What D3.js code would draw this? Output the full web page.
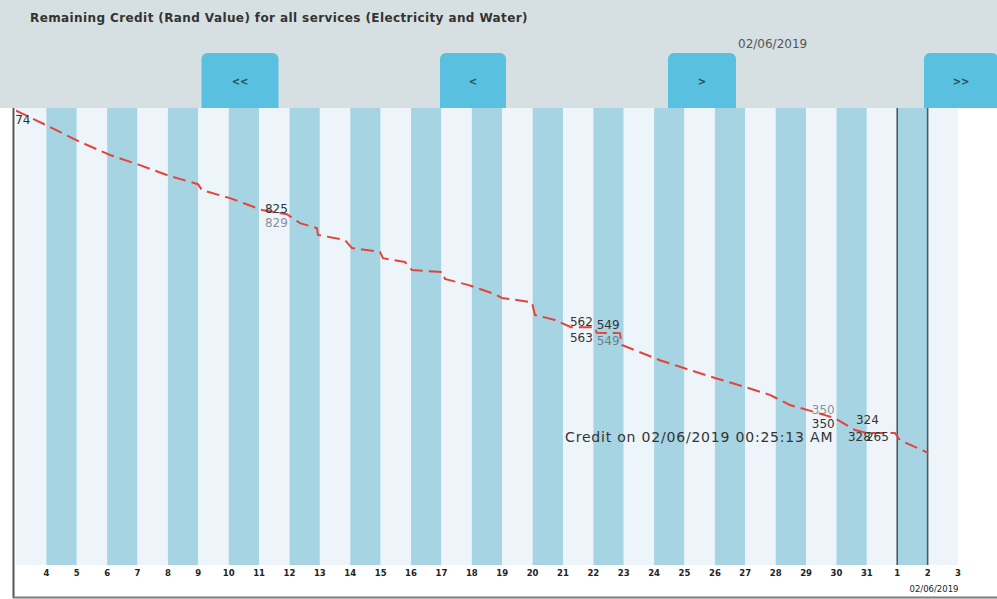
<!DOCTYPE html>
<meta charset="utf-8">
<style>
    body {
        margin: 0;
        background: #fff;
    }

    .title {
        font: bold 12px "DejaVu Sans", Verdana, sans-serif;
        letter-spacing: 0.4px;
        fill: #333;
    }

    .datelabel {
        font: 12px "DejaVu Sans", Verdana, sans-serif;
        fill: #555;
    }

    .btn text {
        font: bold 10px "DejaVu Sans", Verdana, sans-serif;
        fill: #23515f;
        text-anchor: middle;
    }

    .tick-label {
        font: bold 8.5px "DejaVu Sans", Verdana, sans-serif;
        fill: #222;
        text-anchor: middle;
    }

    .anno {
        font: 12px "DejaVu Sans", Verdana, sans-serif;
        fill: #333;
    }

    .anno.big {
        font-size: 14px;
        letter-spacing: 0.8px;
    }
</style>
<svg width="997" height="599"></svg>
<script src="https://d3js.org/d3.v7.min.js"></script>
<script>

    var titleText = "Remaining Credit (Rand Value) for all services (Electricity and Water)";
    var selectedDate = "02/06/2019";
    var buttonLabels = ["<<", "<", ">", ">>"];

    var startDay = "2019-05-03 00:00",
        endDay = "2019-06-03 00:00";
    var markerDays = ["2019-06-01 00:00", "2019-06-02 00:00"];

    // meter readings (time, remaining credit in Rand)
    var readTimes = [
        "2019-05-03 00:00", "2019-05-04 02:51", "2019-05-05 02:33", "2019-05-06 02:14",
        "2019-05-07 01:55", "2019-05-08 01:37", "2019-05-08 23:44", "2019-05-09 02:53",
        "2019-05-10 01:00", "2019-05-11 02:17", "2019-05-11 22:00", "2019-05-12 08:17",
        "2019-05-12 21:43", "2019-05-12 22:30", "2019-05-13 19:49", "2019-05-14 01:20",
        "2019-05-14 23:28", "2019-05-15 01:49", "2019-05-15 19:12", "2019-05-16 00:45",
        "2019-05-17 01:13", "2019-05-17 02:47", "2019-05-17 20:57", "2019-05-18 18:17",
        "2019-05-18 23:49", "2019-05-19 23:30", "2019-05-20 01:52", "2019-05-20 17:40",
        "2019-05-21 06:18", "2019-05-22 01:15", "2019-05-22 02:40", "2019-05-22 21:00",
        "2019-05-22 22:30", "2019-05-24 04:35", "2019-05-24 22:45", "2019-05-26 00:01",
        "2019-05-26 23:43", "2019-05-27 19:28", "2019-05-28 11:15", "2019-05-29 01:28",
        "2019-05-29 22:48", "2019-05-30 14:35", "2019-05-31 00:04", "2019-05-31 22:10",
        "2019-06-01 02:08", "2019-06-02 00:25"
    ];
    var credit = [
        1074, 1035, 1000, 969,
        945, 919, 900, 886,
        867, 839, 829, 808,
        796, 780, 768, 749,
        740, 725, 716, 697,
        692, 676, 662, 640,
        631, 621, 591, 579,
        562, 562, 549, 548,
        520, 484, 466, 442,
        421, 402, 378, 366,
        347, 319, 312, 312,
        295, 265
    ];

    // value labels left on the chart (text, time, level)
    var annoText = ["1074", "825", "829", "562", "549", "563", "549", "350", "350", "324", "328", "265",
        "Credit on 02/06/2019 00:25:13 AM"];
    var annoTime = ["2019-05-02 11:20", "2019-05-11 04:34", "2019-05-11 04:34", "2019-05-21 05:31",
        "2019-05-22 02:40", "2019-05-21 05:31", "2019-05-22 02:40", "2019-05-29 04:33",
        "2019-05-29 04:33", "2019-05-30 15:22", "2019-05-30 09:07", "2019-05-30 23:17",
        "2019-05-21 01:41"];
    var annoLevel = [1042, 832, 799, 565, 558, 527, 520, 357, 324, 333, 293, 293, 291];
    var annoFaded = [0, 0, 1, 0, 0, 0, 1, 1, 0, 0, 0, 0, 0];

    var parse = d3.timeParse("%Y-%m-%d %H:%M");

    var svg = d3.select("svg"),
        plotTop = 108,
        plotBottom = 565;

    var x = d3.scaleTime()
        .domain([parse(startDay), parse(endDay)])
        .range([16, 958]);

    var y = d3.scaleLinear()
        .domain([0, 1080])
        .range([plotBottom, plotTop]);

    // header band
    svg.append("rect")
        .attr("x", 0).attr("y", 0)
        .attr("width", 997).attr("height", plotTop)
        .attr("fill", "#d6dfe1");

    svg.append("text")
        .attr("class", "title")
        .attr("x", 30).attr("y", 22)
        .text(titleText);

    svg.append("text")
        .attr("class", "datelabel")
        .attr("x", 738).attr("y", 48)
        .text(selectedDate);

    var btnCx = [240, 473, 702, 961],
        btnW = [77, 66, 68, 74];

    var btn = svg.selectAll(".btn")
        .data(buttonLabels)
        .enter().append("g")
        .attr("class", "btn")
        .attr("transform", function (d, i) {
            return "translate(" + btnCx[i] + ",0)";
        });

    btn.append("rect")
        .attr("x", function (d, i) { return -btnW[i] / 2; })
        .attr("y", 53)
        .attr("width", function (d, i) { return btnW[i]; })
        .attr("height", 62)
        .attr("rx", 6)
        .attr("fill", "#59c0df");

    btn.append("text")
        .attr("y", 85)
        .text(function (d) { return d; });

    // white chart panel
    svg.append("rect")
        .attr("x", 0).attr("y", plotTop)
        .attr("width", 997).attr("height", 599 - plotTop)
        .attr("fill", "#fff");

    var days = d3.timeDay.range(parse(startDay), parse(endDay));

    svg.append("g")
        .selectAll("rect")
        .data(days)
        .enter().append("rect")
        .attr("x", function (d) { return x(d); })
        .attr("y", plotTop)
        .attr("width", function (d) { return x(d3.timeDay.offset(d, 1)) - x(d); })
        .attr("height", plotBottom - plotTop)
        .attr("fill", function (d, i) { return i % 2 ? "#a7d4e3" : "#eef5fa"; });

    svg.append("g")
        .selectAll("line")
        .data(markerDays.map(parse))
        .enter().append("line")
        .attr("x1", function (d) { return x(d); })
        .attr("x2", function (d) { return x(d); })
        .attr("y1", plotTop)
        .attr("y2", plotBottom)
        .attr("stroke", "#4a5a60")
        .attr("stroke-width", 1.6);

    // day ticks
    var tickDays = d3.timeDay.range(d3.timeDay.offset(parse(startDay), 1), d3.timeDay.offset(parse(endDay), 1));
    svg.append("g")
        .selectAll("text")
        .data(tickDays)
        .enter().append("text")
        .attr("class", "tick-label")
        .attr("x", function (d) { return x(d); })
        .attr("y", 576)
        .text(d3.timeFormat("%-d"));

    svg.append("text")
        .attr("class", "tick-label")
        .style("font-weight", "normal")
        .attr("x", x(parse(endDay)) - 24)
        .attr("y", 592)
        .text(selectedDate);

    // panel frame
    svg.append("line")
        .attr("x1", 13.5).attr("x2", 13.5)
        .attr("y1", plotTop).attr("y2", 598)
        .attr("stroke", "#555")
        .attr("stroke-width", 2);

    svg.append("line")
        .attr("x1", 13).attr("x2", 997)
        .attr("y1", 597.5).attr("y2", 597.5)
        .attr("stroke", "#7a7a7a")
        .attr("stroke-width", 2);

    svg.append("clipPath")
        .attr("id", "plotclip")
        .append("rect")
        .attr("x", 16).attr("y", plotTop)
        .attr("width", 942).attr("height", plotBottom - plotTop);

    var plot = svg.append("g").attr("clip-path", "url(#plotclip)");

    var line = d3.line()
        .x(function (d) { return x(d[0]); })
        .y(function (d) { return y(d[1]); });

    var points = readTimes.map(function (t, i) { return [parse(t), credit[i]]; });

    plot.append("path")
        .datum(points)
        .attr("d", line)
        .attr("fill", "none")
        .attr("stroke", "#e3443a")
        .attr("stroke-width", 2)
        .attr("stroke-dasharray", "13,6");

    plot.selectAll(".anno")
        .data(annoText)
        .enter().append("text")
        .attr("class", function (d) { return d.length > 10 ? "anno big" : "anno"; })
        .attr("x", function (d, i) { return x(parse(annoTime[i])); })
        .attr("y", function (d, i) { return y(annoLevel[i]); })
        .style("fill-opacity", function (d, i) { return annoFaded[i] ? 0.55 : 1; })
        .text(function (d) { return d; });

</script>
